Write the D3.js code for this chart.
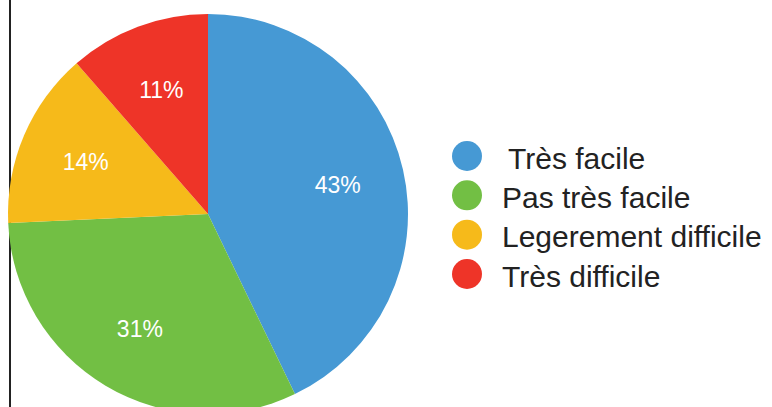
<!DOCTYPE html>
<html>
<head>
<meta charset="utf-8">
<script src="https://cdn.jsdelivr.net/npm/d3@7"></script>
<style>
  html, body { margin: 0; padding: 0; background: #fff; }
  svg { display: block; }
  text { font-family: "Liberation Sans", Arial, Helvetica, sans-serif; }
</style>
</head>
<body>
<svg id="chart" width="772" height="407"></svg>
<script>
const categories = ["\u2009Très facile", "Pas très facile", "Legerement difficile", "Très difficile"];
const values = [42.8, 31.4, 14.3, 11.4];
const sliceLabels = ["43%", "31%", "14%", "11%"];
const colors = ["#4699D4", "#72BF44", "#F6BA1A", "#EE3428"];

const svg = d3.select("#chart");
const W = 772, H = 407;
const cx = 208, cy = 214, R = 200;

// left vertical rule
svg.append("line")
  .attr("x1", 10).attr("x2", 10)
  .attr("y1", 0).attr("y2", H)
  .attr("stroke", "#222").attr("stroke-width", 2);

const pie = d3.pie().sort(null).value(d => d)(values);
const arc = d3.arc().innerRadius(0).outerRadius(R);
const labelArc = d3.arc().innerRadius(R * 0.665).outerRadius(R * 0.665);
const color = d3.scaleOrdinal().domain(d3.range(values.length)).range(colors);

const g = svg.append("g").attr("transform", `translate(${cx},${cy})`);
g.selectAll("path.slice")
  .data(pie)
  .join("path")
  .attr("class", "slice")
  .attr("d", arc)
  .attr("fill", (d, i) => color(i));

g.selectAll("text.pct")
  .data(pie)
  .join("text")
  .attr("class", "pct")
  .attr("transform", d => `translate(${labelArc.centroid(d)})`)
  .attr("text-anchor", "middle")
  .attr("dy", "0.38em")
  .attr("fill", "#fff")
  .attr("font-size", 23)
  .text((d, i) => sliceLabels[i]);

// legend
const y = d3.scalePoint().domain(d3.range(categories.length)).range([156, 274]);
const leg = svg.append("g");
const rows = leg.selectAll("g.row")
  .data(categories)
  .join("g")
  .attr("class", "row")
  .attr("transform", (d, i) => `translate(0,${y(i)})`);
rows.append("circle")
  .attr("cx", 467).attr("cy", 0).attr("r", 15)
  .attr("fill", (d, i) => color(i));
rows.append("text")
  .attr("x", 502)
  .attr("dy", "0.42em")
  .attr("font-size", 30)
  .attr("fill", "#222")
  .style("white-space", "pre")
  .text(d => d);
</script>
</body>
</html>
